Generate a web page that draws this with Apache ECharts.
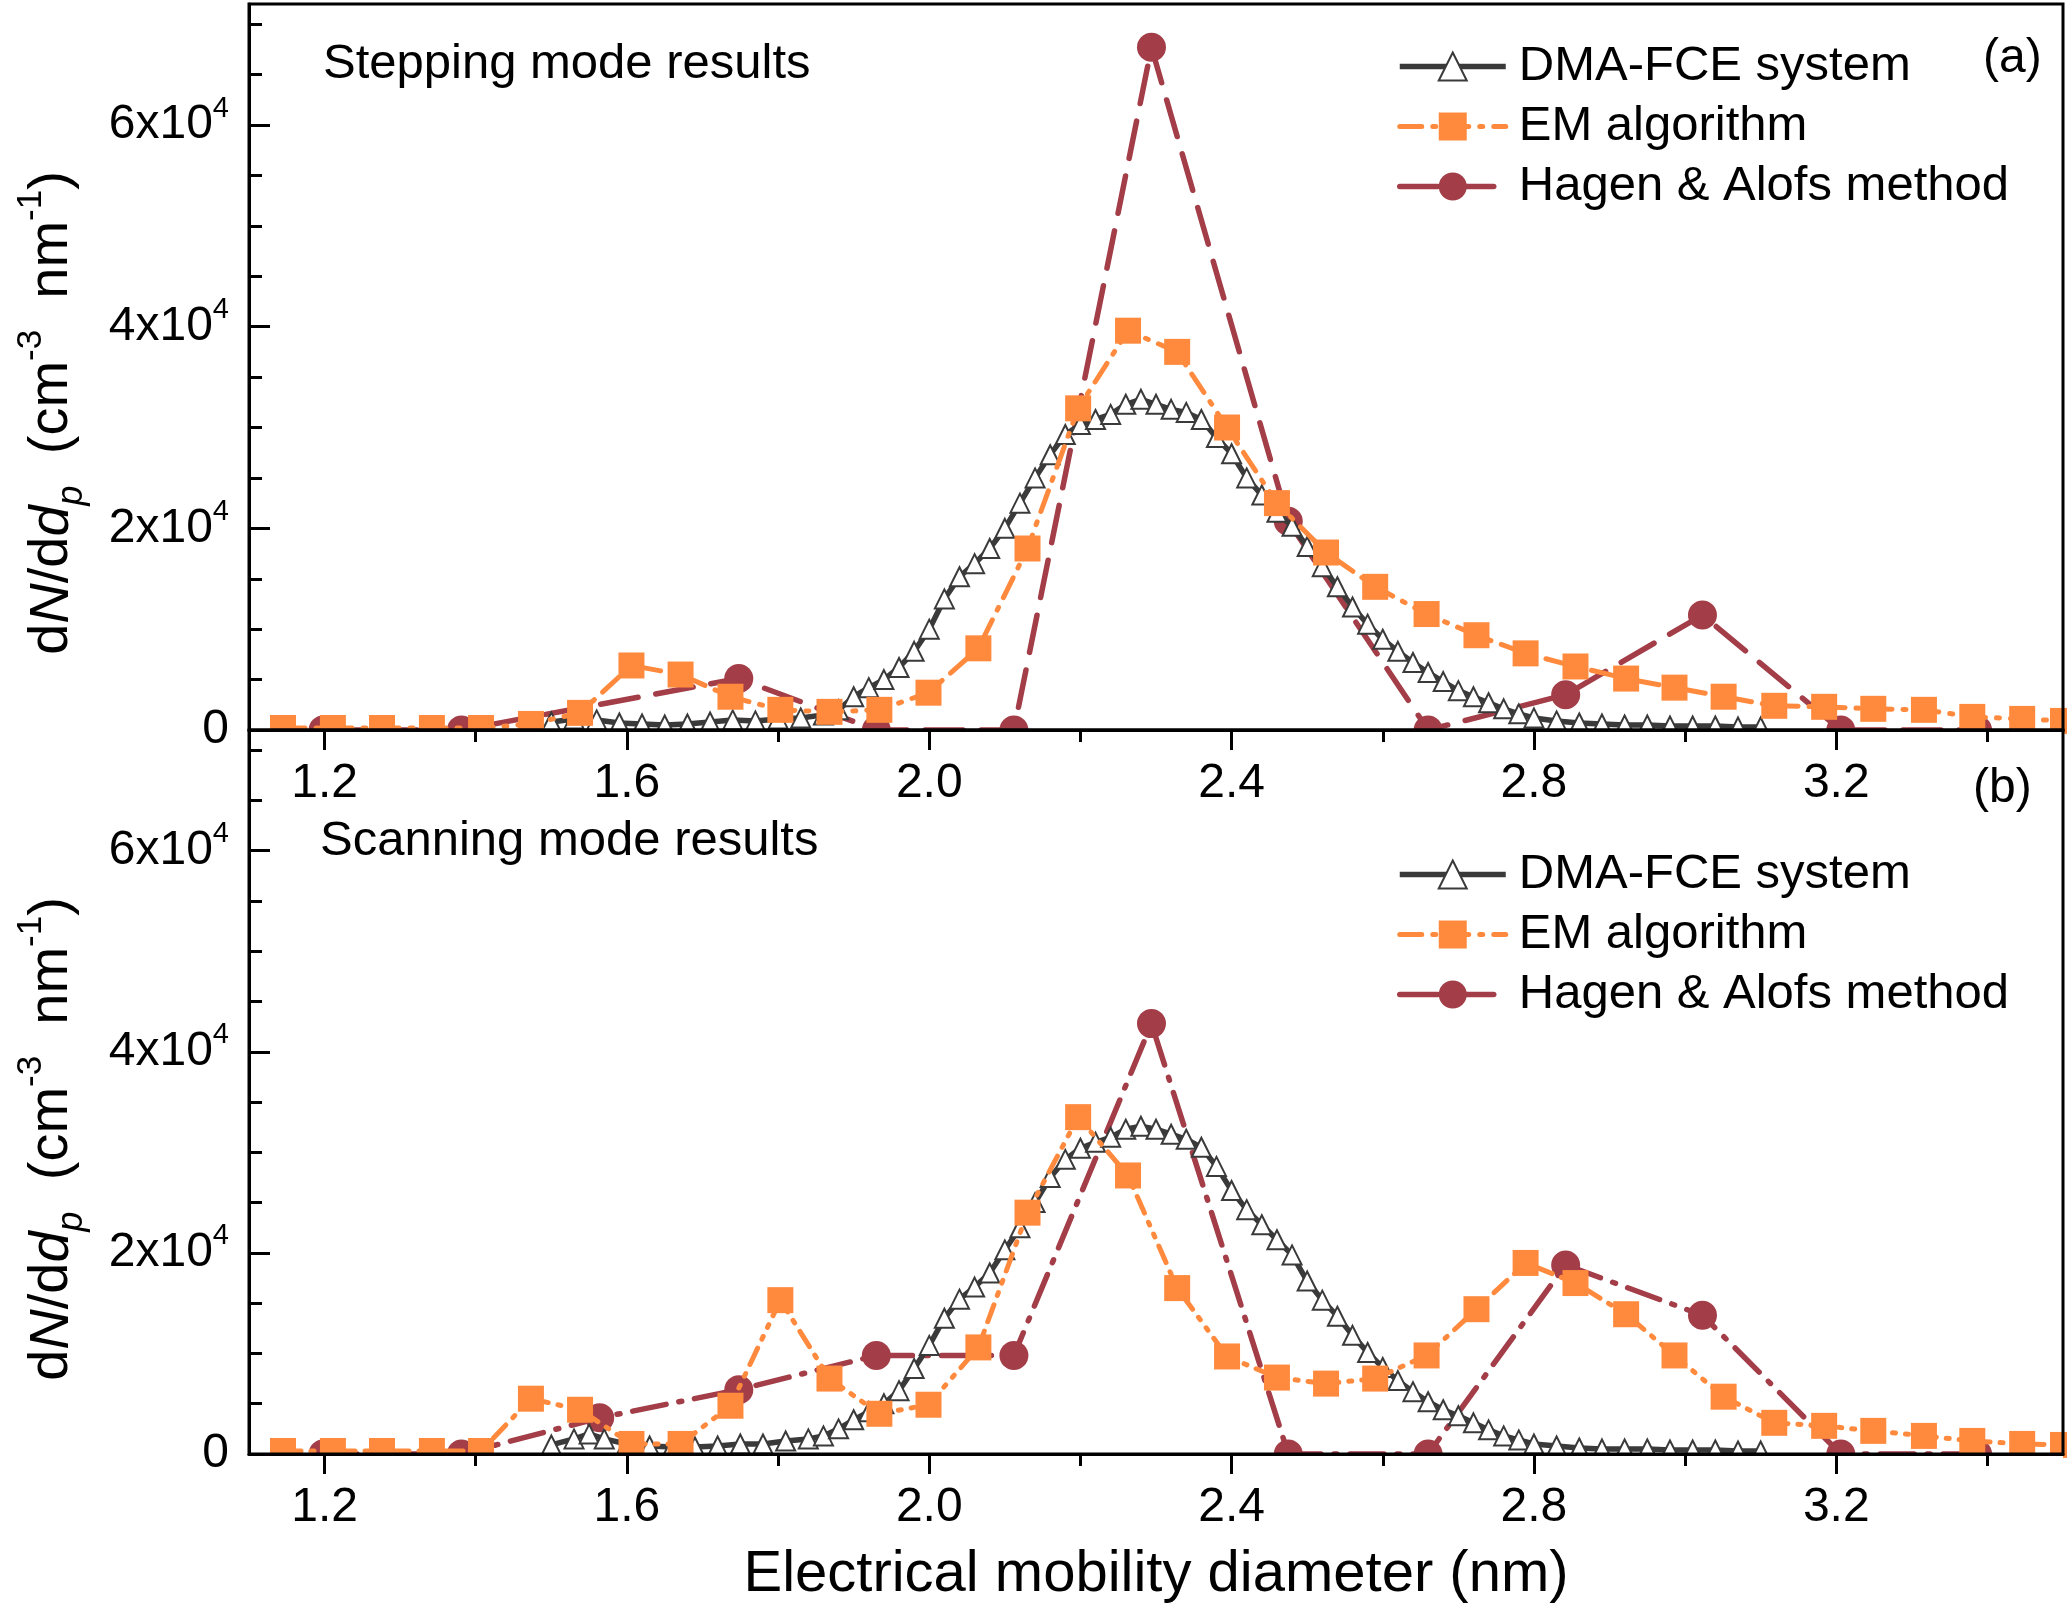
<!DOCTYPE html>
<html><head><meta charset="utf-8">
<script src="https://cdn.jsdelivr.net/npm/echarts@6/dist/echarts.min.js"></script>
<style>html,body{margin:0;padding:0;background:#fff}#c{width:2067px;height:1611px}</style>
</head><body><div id="c"></div>
<script>
// ---------- data ----------
const xMajorTicks = [1.2, 1.6, 2.0, 2.4, 2.8, 3.2];
const xMinorTicks = [1.4, 1.8, 2.2, 2.6, 3.0, 3.4];
const yMajorTicks = [0, 20000, 40000, 60000];
const yMinorTicks = [5000, 10000, 15000, 25000, 30000, 35000, 45000, 50000, 55000, 65000, 70000];

const seriesNames = ['DMA-FCE system', 'EM algorithm', 'Hagen & Alofs method'];
const panelTitles = ['Stepping mode results', 'Scanning mode results'];
const panelTags = ['(a)', '(b)'];
const xAxisTitle = 'Electrical mobility diameter (nm)';

// DMA-FCE system, panel (a)
const dmaXA = [1.50,1.53,1.56,1.59,1.62,1.65,1.68,1.71,1.74,1.77,1.80,1.83,1.86,1.88,1.90,1.92,1.94,1.96,1.98,2.00,2.02,2.04,2.06,2.08,2.10,2.12,2.14,2.16,2.18,2.20,2.22,2.24,2.26,2.28,2.30,2.32,2.34,2.36,2.38,2.40,2.42,2.44,2.46,2.48,2.50,2.52,2.54,2.56,2.58,2.60,2.62,2.64,2.66,2.68,2.70,2.72,2.74,2.76,2.78,2.80,2.83,2.86,2.89,2.92,2.95,2.98,3.01,3.04,3.07,3.10];
const dmaYA = [800,1100,1000,700,600,500,600,800,1000,900,1100,1200,1500,2000,3300,4200,5000,6200,7800,10000,13000,15200,16500,18000,20000,22500,25000,27300,29300,30300,30800,31300,32300,32800,32300,31800,31500,30800,29000,27400,25000,23300,21600,20200,18200,16200,14200,12200,10500,9000,7800,6700,5700,4800,3900,3300,2700,2100,1600,1200,900,700,600,500,500,400,400,400,300,300];
// DMA-FCE system, panel (b)
const dmaXB = [1.50,1.53,1.55,1.57,1.60,1.63,1.66,1.69,1.72,1.75,1.78,1.81,1.84,1.86,1.88,1.90,1.92,1.94,1.96,1.98,2.00,2.02,2.04,2.06,2.08,2.10,2.12,2.14,2.16,2.18,2.20,2.22,2.24,2.26,2.28,2.30,2.32,2.34,2.36,2.38,2.40,2.42,2.44,2.46,2.48,2.50,2.52,2.54,2.56,2.58,2.60,2.62,2.64,2.66,2.68,2.70,2.72,2.74,2.76,2.78,2.80,2.83,2.86,2.89,2.92,2.95,2.98,3.01,3.04,3.07,3.10];
const dmaYB = [900,1500,2000,1500,1000,800,700,700,800,1000,1000,1300,1500,1800,2500,3400,4200,5000,6300,8500,10800,13500,15400,16600,18000,20300,22500,25000,27500,29300,30400,31000,31500,32300,32600,32300,31800,31300,30500,28600,26200,24300,22800,21300,19800,17200,15300,13700,11800,10100,8600,7300,6200,5200,4400,3800,3100,2400,1800,1400,1000,800,600,500,500,500,400,400,400,300,300];

// EM algorithm
const emX = [1.145,1.211,1.276,1.342,1.407,1.473,1.538,1.606,1.671,1.737,1.803,1.868,1.934,1.999,2.065,2.130,2.197,2.263,2.328,2.394,2.460,2.525,2.590,2.658,2.724,2.789,2.855,2.922,2.986,3.051,3.118,3.184,3.249,3.316,3.380,3.446,3.500];
const emYA = [200,200,200,200,200,600,1700,6400,5500,3300,2000,1800,2000,3700,8100,18000,31900,39600,37500,30000,22500,17600,14200,11500,9400,7600,6300,5100,4200,3300,2400,2300,2100,2000,1300,1100,900];
const emYB = [300,300,300,300,300,5500,4400,1000,1000,4800,15300,7500,4000,4900,10600,24000,33500,27700,16500,9700,7600,7000,7500,9800,14400,19000,17000,13900,9800,5700,3100,2800,2300,1800,1300,1000,900];

// Hagen & Alofs method
const haXA = [1.198,1.381,1.748,1.930,2.112,2.294,2.475,2.660,2.842,3.023,3.206,3.387];
const haYA = [0,0,5100,0,0,67700,20700,0,3500,11400,0,0];
const haXB = [1.198,1.381,1.564,1.748,1.930,2.112,2.294,2.475,2.660,2.842,3.023,3.206,3.387];
const haYB = [0,0,3600,6400,9800,9800,42800,0,0,18800,13800,0,0];

// ---------- styling ----------
const FONT = '"Liberation Sans", Arial, sans-serif';
const C_DMA = '#3A3A3A', C_EM = '#FF8A3D', C_HA = '#A33D47';
const zip = (xs, ys) => xs.map((x, i) => [x, ys[i]]);

const grids = [
  {left: 249, top: 4, width: 1814, height: 726},
  {left: 249, top: 730, width: 1814, height: 724}
];

const xAxes = [], yAxes = [];
grids.forEach((g, p) => {
  xAxes.push({
    type: 'value', gridIndex: p, min: 1.1, max: 3.5, position: 'bottom', z: 10,
    axisLine: {show: true, onZero: false, lineStyle: {color: '#000', width: 3}},
    axisTick: {show: true, inside: false, length: 20, customValues: xMajorTicks, lineStyle: {color: '#000', width: 3}},
    axisLabel: {show: true, customValues: xMajorTicks, margin: 30, fontSize: 48, color: '#000', fontFamily: FONT,
      formatter: v => v.toFixed(1)},
    splitLine: {show: false}
  });
  xAxes.push({
    type: 'value', gridIndex: p, min: 1.1, max: 3.5, position: 'bottom', z: 10,
    axisLine: {show: false, onZero: false},
    axisTick: {show: true, inside: false, length: 12, customValues: xMinorTicks, lineStyle: {color: '#000', width: 3}},
    axisLabel: {show: false}, splitLine: {show: false}
  });
  yAxes.push({
    type: 'value', gridIndex: p, min: 0, max: 72000, position: 'left', z: 10,
    axisLine: {show: true, onZero: false, lineStyle: {color: '#000', width: 3}},
    axisTick: {show: true, inside: true, length: 21, customValues: yMajorTicks, lineStyle: {color: '#000', width: 3}},
    axisLabel: {show: true, customValues: yMajorTicks, margin: 20,
      formatter: v => v === 0 ? '{m|0}' : '{m|' + (v / 10000) + 'x10}{s|4}',
      rich: {
        m: {fontSize: 48, lineHeight: 62, color: '#000', fontFamily: FONT},
        s: {fontSize: 29, lineHeight: 27, verticalAlign: 'top', color: '#000', fontFamily: FONT}
      }},
    splitLine: {show: false}
  });
  yAxes.push({
    type: 'value', gridIndex: p, min: 0, max: 72000, position: 'left', z: 10,
    axisLine: {show: false, onZero: false},
    axisTick: {show: true, inside: true, length: 13, customValues: yMinorTicks, lineStyle: {color: '#000', width: 3}},
    axisLabel: {show: false}, splitLine: {show: false}
  });
});

const dash = {
  emA: [22, 11, 3, 11], haA: [38, 18],
  emB: [18, 10, 3, 10, 3, 10], haB: [34, 13, 3, 13]
};
const panels = [
  {dma: zip(dmaXA, dmaYA), em: zip(emX, emYA), ha: zip(haXA, haYA), emDash: dash.emA, haDash: dash.haA},
  {dma: zip(dmaXB, dmaYB), em: zip(emX, emYB), ha: zip(haXB, haYB), emDash: dash.emB, haDash: dash.haB}
];

const series = [];
panels.forEach((d, p) => {
  const ax = {xAxisIndex: p * 2, yAxisIndex: p * 2};
  series.push(Object.assign({
    name: seriesNames[2], type: 'line', data: d.ha, z: 2,
    symbol: 'circle', symbolSize: 29, showAllSymbol: true,
    itemStyle: {color: C_HA},
    lineStyle: {color: C_HA, width: 5.5, type: d.haDash, cap: 'round'}
  }, ax));
  series.push(Object.assign({
    name: seriesNames[0], type: 'line', data: d.dma, z: 3,
    symbol: 'emptyTriangle', symbolSize: 19, showAllSymbol: true,
    itemStyle: {color: C_DMA, borderWidth: 3.5, borderColor: C_DMA},
    lineStyle: {color: C_DMA, width: 5.5}
  }, ax));
  series.push(Object.assign({
    name: seriesNames[1], type: 'line', data: d.em, z: 4,
    symbol: 'rect', symbolSize: 26, showAllSymbol: true,
    itemStyle: {color: C_EM},
    lineStyle: {color: C_EM, width: 5, type: d.emDash, cap: 'round'}
  }, ax));
});

const legendTops = [37, 845];
const legends = legendTops.map(t => ({
  data: seriesNames, orient: 'vertical', left: 1392, top: t,
  itemWidth: 106, itemHeight: 35, itemGap: 11, selectedMode: false,
  lineStyle: {width: 'inherit'},
  textStyle: {fontSize: 49, lineHeight: 49, color: '#000', fontFamily: FONT, padding: [0, 0, 0, 8]}
}));

const yTitle = '{n|d}{i|N}{n|/d}{i|d}{ps|p}{n|  (cm}{sup|-3}{n|  nm}{sup|-1}{n|)}';
const yTitleRich = {
  n: {fontSize: 56, lineHeight: 76, fontFamily: FONT, fill: '#000'},
  i: {fontSize: 56, lineHeight: 76, fontFamily: FONT, fontStyle: 'italic', fill: '#000'},
  ps: {fontSize: 36, lineHeight: 40, fontFamily: FONT, fontStyle: 'italic', verticalAlign: 'bottom', fill: '#000'},
  sup: {fontSize: 35, lineHeight: 38, fontFamily: FONT, verticalAlign: 'top', fill: '#000'}
};
const graphics = [];
// masks that hide the parts of marks falling below each x axis (plot clipping)
grids.forEach(g => graphics.push({
  type: 'rect', z: 5, silent: true,
  shape: {x: g.left, y: g.top + g.height + 1.5, width: g.width, height: 22},
  style: {fill: '#fff'}
}));
[413, 1139].forEach(cy => graphics.push({
  type: 'text', x: 52, y: cy, rotation: Math.PI / 2,
  style: {text: yTitle, rich: yTitleRich, align: 'center', verticalAlign: 'middle'}
}));
const titlePos = [[323, 64], [320, 841]];
titlePos.forEach((pos, i) => graphics.push({
  type: 'text', x: pos[0], y: pos[1],
  style: {text: panelTitles[i], fontSize: 49, fontFamily: FONT, fill: '#000', align: 'left', verticalAlign: 'middle'}
}));
const tagPos = [[1983, 59], [1973, 789]];
tagPos.forEach((pos, i) => graphics.push({
  type: 'text', x: pos[0], y: pos[1],
  style: {text: panelTags[i], fontSize: 48, fontFamily: FONT, fill: '#000', align: 'left', verticalAlign: 'middle'}
}));
graphics.push({
  type: 'text', x: 1156, y: 1575,
  style: {text: xAxisTitle, fontSize: 58, fontFamily: FONT, fill: '#000', align: 'center', verticalAlign: 'middle'}
});

const chart = echarts.init(document.getElementById('c'), null, {renderer: 'canvas'});
chart.setOption({
  animation: false,
  backgroundColor: '#fff',
  grid: grids.map(g => Object.assign({show: true, z: 10, borderColor: '#000', borderWidth: 3, backgroundColor: 'transparent', containLabel: false, outerBoundsMode: 'none'}, g)),
  xAxis: xAxes,
  yAxis: yAxes,
  legend: legends,
  series: series,
  graphic: graphics
});
</script></body></html>
